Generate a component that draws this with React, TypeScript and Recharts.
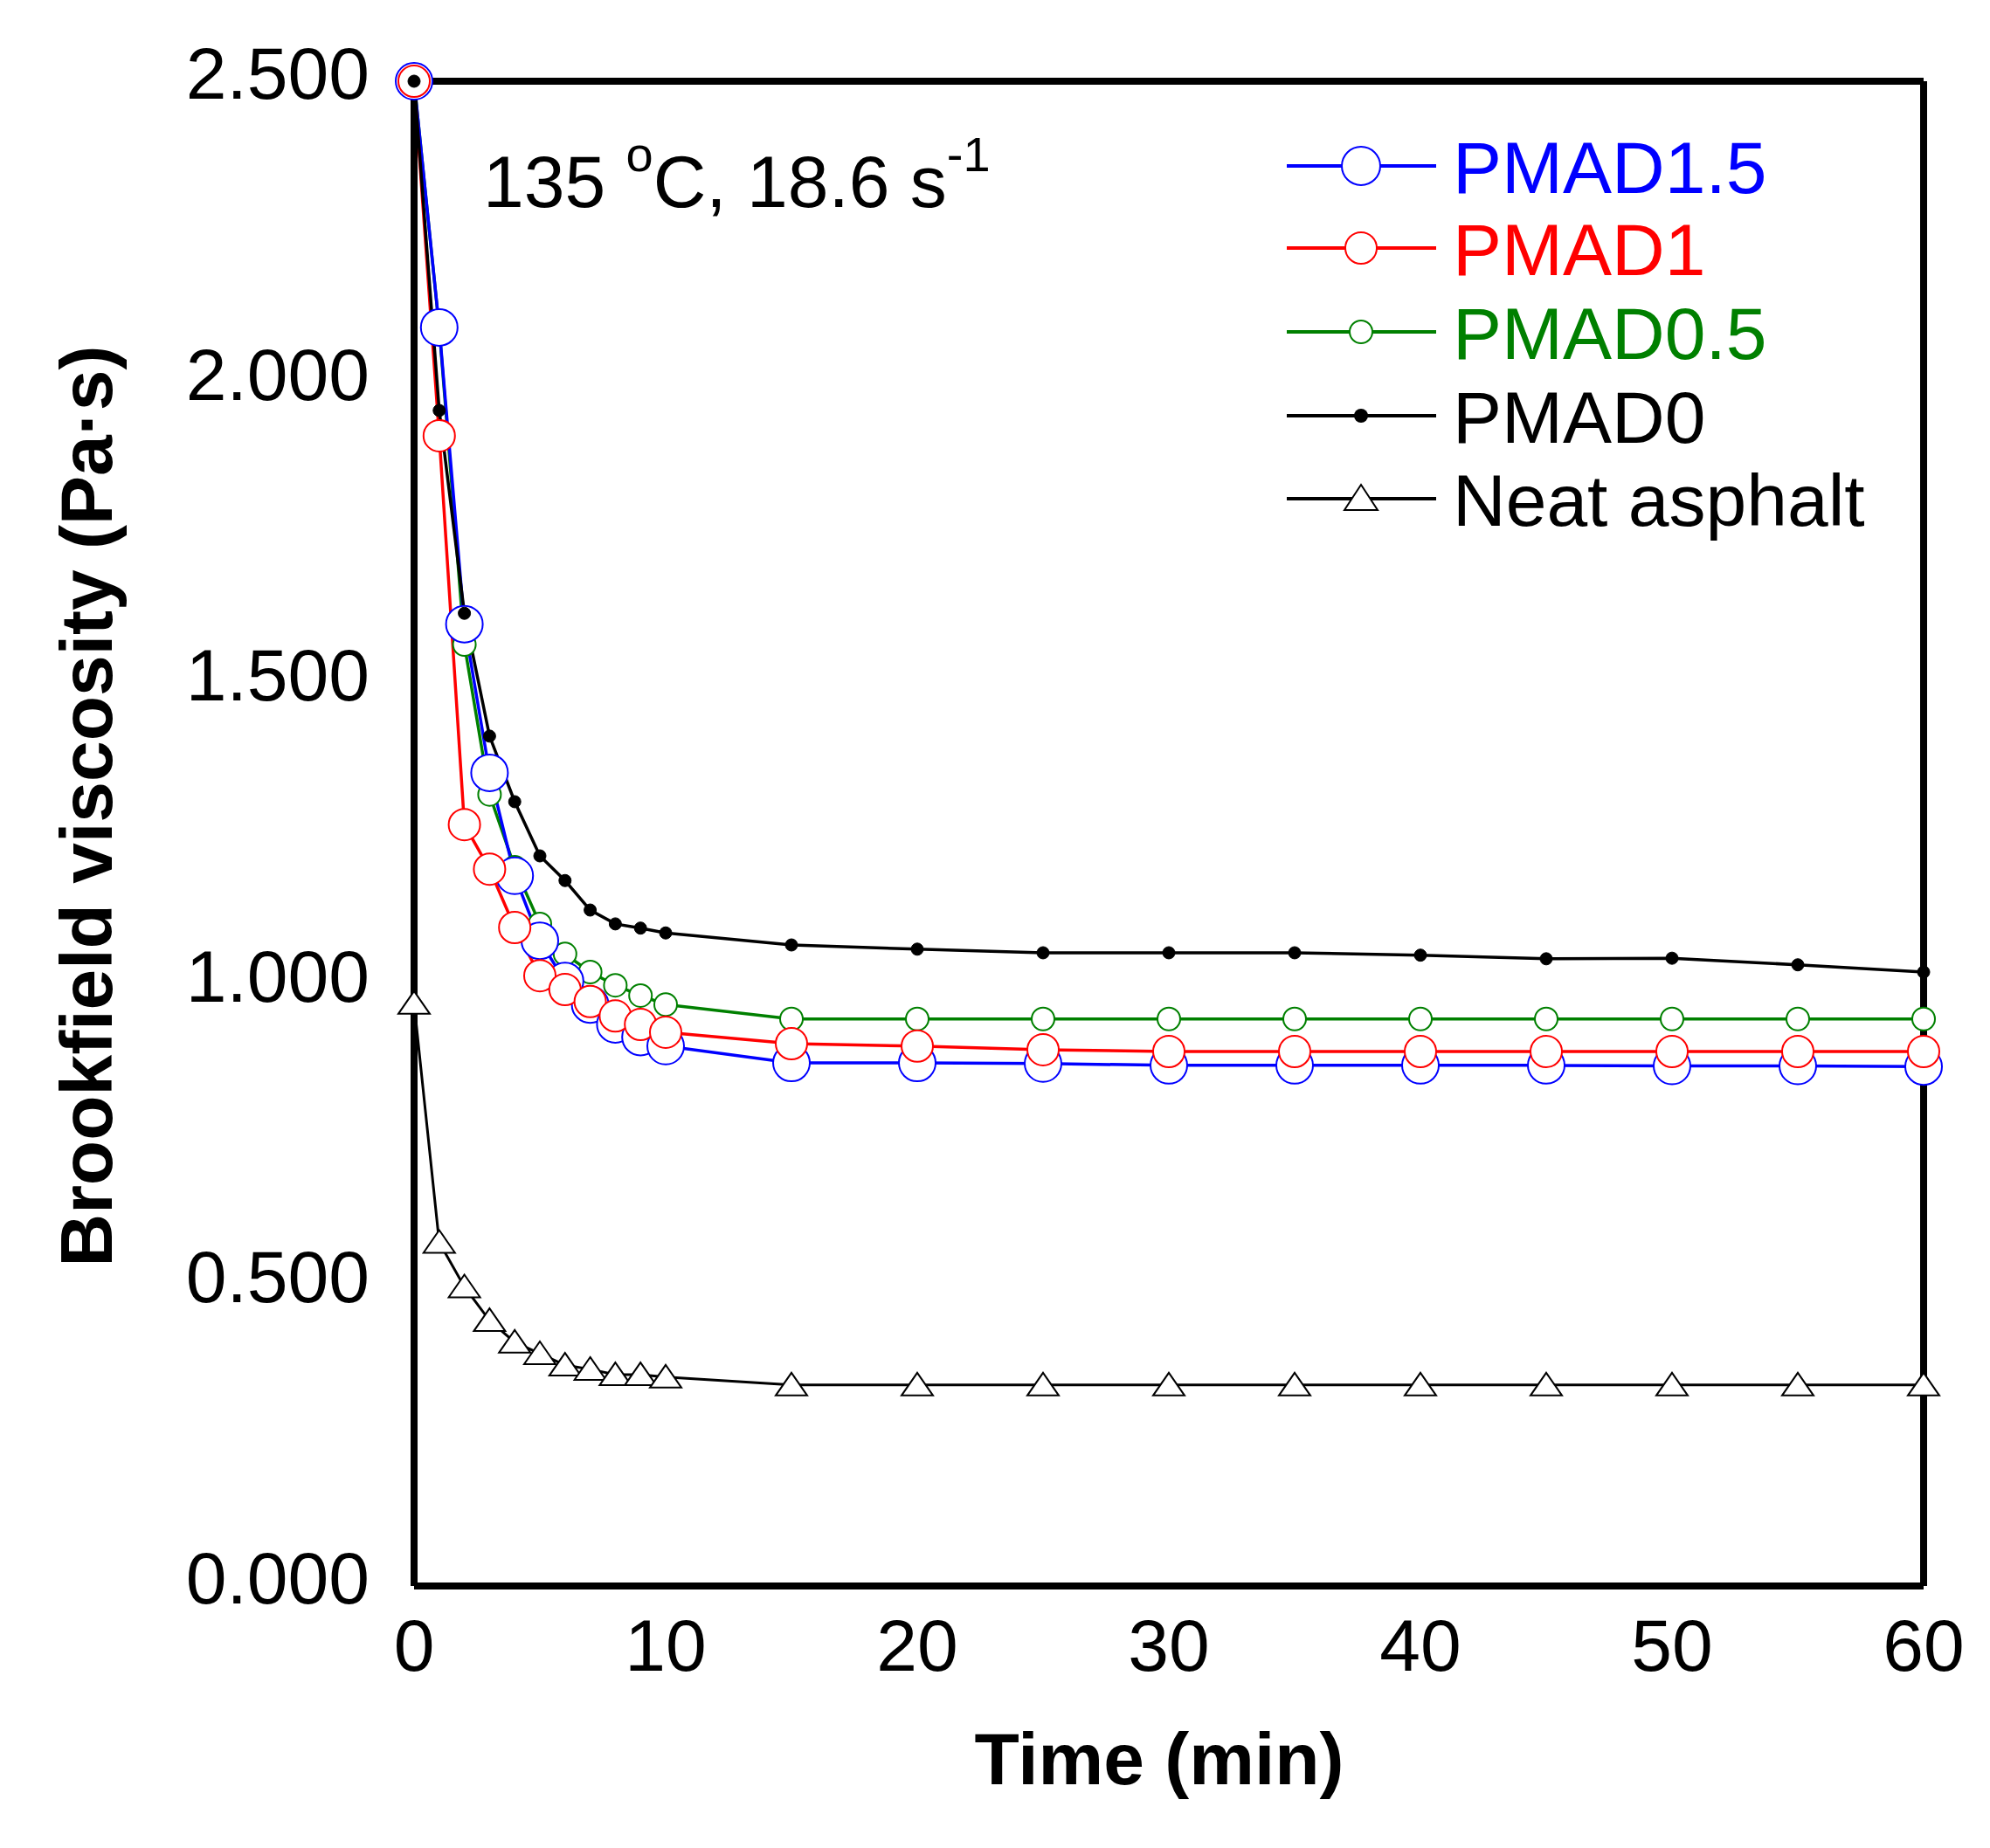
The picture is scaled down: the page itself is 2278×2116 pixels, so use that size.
import { Customized, Line, LineChart, XAxis, YAxis } from "recharts";

// viscosity (Pa·s) against time (min)
const time = [0, 1, 2, 3, 4, 5, 6, 7, 8, 9, 10, 15, 20, 25, 30, 35, 40, 45, 50, 55, 60];
const pmad15 = [2.5, 2.091, 1.598, 1.351, 1.18, 1.072, 1.005, 0.966, 0.933, 0.912, 0.897, 0.869, 0.869, 0.868, 0.865, 0.865, 0.865, 0.865, 0.864, 0.864, 0.863];
const pmad1 = [2.5, 1.911, 1.265, 1.191, 1.094, 1.014, 0.991, 0.971, 0.947, 0.933, 0.92, 0.901, 0.897, 0.891, 0.888, 0.888, 0.888, 0.888, 0.888, 0.888, 0.888];
const pmad05 = [2.5, 2.09, 1.564, 1.315, 1.194, 1.1, 1.05, 1.02, 0.998, 0.981, 0.966, 0.942, 0.942, 0.942, 0.942, 0.942, 0.942, 0.942, 0.942, 0.942, 0.942];
const pmad0 = [2.5, 1.953, 1.616, 1.412, 1.303, 1.213, 1.172, 1.123, 1.1, 1.093, 1.085, 1.065, 1.058, 1.052, 1.052, 1.052, 1.048, 1.042, 1.043, 1.032, 1.02];
const neat = [0.968, 0.571, 0.497, 0.441, 0.405, 0.386, 0.367, 0.36, 0.351, 0.351, 0.347, 0.334, 0.334, 0.334, 0.334, 0.334, 0.334, 0.334, 0.334, 0.334, 0.334];

const seriesNames = ["PMAD1.5", "PMAD1", "PMAD0.5", "PMAD0", "Neat asphalt"];
const xTicks = [0, 10, 20, 30, 40, 50, 60];
const yTicks = [0, 0.5, 1, 1.5, 2, 2.5];

const rows = time.map((t, i) => ({
  t,
  pmad15: pmad15[i],
  pmad1: pmad1[i],
  pmad05: pmad05[i],
  pmad0: pmad0[i],
  neat: neat[i],
}));

const font = '"Liberation Sans", Arial, Helvetica, sans-serif';
const blue = "#0000ff";
const red = "#ff0000";
const green = "#008000";
const black = "#000000";
const axisLine = { stroke: black, strokeWidth: 8 };

function TriangleDot(props: any) {
  const { cx, cy, index } = props;
  if (cx == null || cy == null) return null;
  return (
    <path
      key={`tri-${index}`}
      d={`M${cx},${cy - 14} L${cx + 18},${cy + 12} L${cx - 18},${cy + 12} Z`}
      fill="#fff"
      stroke={black}
      strokeWidth={2}
    />
  );
}

function XTick(props: any) {
  const { x, y, payload } = props;
  return (
    <text x={x} y={y + 97} textAnchor="middle" fontSize={84} fontFamily={font} fill={black}>
      {payload.value}
    </text>
  );
}

function YTick(props: any) {
  const { x, y, payload } = props;
  return (
    <text x={x - 51} y={y + 20} textAnchor="end" fontSize={84} fontFamily={font} fill={black}>
      {Number(payload.value).toFixed(3)}
    </text>
  );
}

const legendRows = [
  { color: blue, kind: "circle", r: 22 },
  { color: red, kind: "circle", r: 18 },
  { color: green, kind: "circle", r: 13 },
  { color: black, kind: "dot", r: 8 },
  { color: black, kind: "triangle", r: 0 },
];
const legendY = [190, 284, 380, 476, 571];

function Overlay() {
  return (
    <g fontFamily={font}>
      <text x={553} y={237} fontSize={84} fill={black}>
        135 <tspan fontSize={56} dy={-41}>o</tspan>
        <tspan dy={41}>C, 18.6 s</tspan>
        <tspan fontSize={56} dy={-41}>-1</tspan>
      </text>
      {legendRows.map((row, i) => {
        const cy = legendY[i];
        return (
          <g key={seriesNames[i]}>
            <line x1={1473} x2={1644} y1={cy} y2={cy} stroke={row.color} strokeWidth={4} />
            {row.kind === "circle" && (
              <circle cx={1558} cy={cy} r={row.r} fill="#fff" stroke={row.color} strokeWidth={2} />
            )}
            {row.kind === "dot" && <circle cx={1558} cy={cy} r={row.r} fill={black} />}
            {row.kind === "triangle" && (
              <path d={`M1558,${cy - 16} L1577,${cy + 13} L1539,${cy + 13} Z`} fill="#fff" stroke={black} strokeWidth={2} />
            )}
            <text x={1663} y={cy + 31} fontSize={84} fill={row.color}>
              {seriesNames[i]}
            </text>
          </g>
        );
      })}
      <text
        transform="translate(128,923) rotate(-90)"
        textAnchor="middle"
        fontSize={84}
        fontWeight="bold"
        fill={black}
      >
        Brookfield viscosity (Pa·s)
      </text>
      <text x={1327} y={2043} textAnchor="middle" fontSize={84} fontWeight="bold" fill={black}>
        Time (min)
      </text>
    </g>
  );
}

export default function App() {
  return (
    <div style={{ position: "absolute", left: 0, top: 0, width: 2278, height: 2116, background: "#fff" }}>
      <LineChart width={2278} height={2116} data={rows} margin={{ top: 83, right: 66, bottom: 200, left: 274 }}>
        <XAxis
          dataKey="t"
          type="number"
          domain={[0, 60]}
          ticks={xTicks}
          height={100}
          tickSize={0}
          tickMargin={0}
          tickLine={false}
          tick={XTick}
          axisLine={axisLine}
        />
        <XAxis
          xAxisId="top"
          orientation="top"
          dataKey="t"
          type="number"
          domain={[0, 60]}
          height={10}
          tick={false}
          tickLine={false}
          axisLine={axisLine}
        />
        <YAxis
          type="number"
          domain={[0, 2.5]}
          ticks={yTicks}
          width={200}
          tickSize={0}
          tickMargin={0}
          tickLine={false}
          tick={YTick}
          axisLine={axisLine}
        />
        <YAxis
          yAxisId="right"
          orientation="right"
          type="number"
          domain={[0, 2.5]}
          width={10}
          tick={false}
          tickLine={false}
          axisLine={axisLine}
        />
        <Line
          dataKey="pmad05"
          name={seriesNames[2]}
          stroke={green}
          strokeWidth={3.5}
          dot={{ r: 13, fill: "#fff", stroke: green, strokeWidth: 2 }}
          activeDot={false}
          isAnimationActive={false}
        />
        <Line
          dataKey="pmad15"
          name={seriesNames[0]}
          stroke={blue}
          strokeWidth={3.5}
          dot={{ r: 21, fill: "#fff", stroke: blue, strokeWidth: 2 }}
          activeDot={false}
          isAnimationActive={false}
        />
        <Line
          dataKey="pmad1"
          name={seriesNames[1]}
          stroke={red}
          strokeWidth={3.5}
          dot={{ r: 18, fill: "#fff", stroke: red, strokeWidth: 2 }}
          activeDot={false}
          isAnimationActive={false}
        />
        <Line
          dataKey="pmad0"
          name={seriesNames[3]}
          stroke={black}
          strokeWidth={3.5}
          dot={{ r: 7, fill: black, stroke: black, strokeWidth: 1 }}
          activeDot={false}
          isAnimationActive={false}
        />
        <Line
          dataKey="neat"
          name={seriesNames[4]}
          stroke={black}
          strokeWidth={3}
          dot={TriangleDot}
          activeDot={false}
          isAnimationActive={false}
        />
        <Customized component={Overlay} />
      </LineChart>
    </div>
  );
}
